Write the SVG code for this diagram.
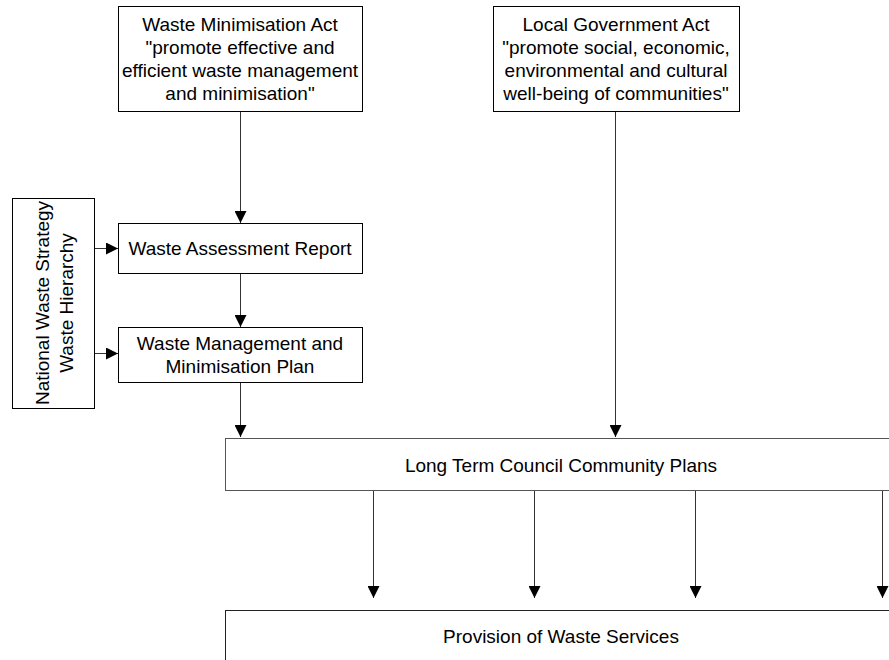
<svg xmlns="http://www.w3.org/2000/svg" width="889" height="660" viewBox="0 0 889 660">
<style>
.box{fill:#fff;stroke:#000;stroke-width:1}
.t{font-family:"Liberation Sans",Arial,sans-serif;font-size:19px;fill:#000;text-anchor:middle}
.c{stroke:#333;stroke-width:1;fill:none;marker-end:url(#ah)}
</style>
<defs>
<marker id="ah" markerWidth="12" markerHeight="12" refX="10" refY="5" orient="auto" markerUnits="userSpaceOnUse" viewBox="0 0 10 10">
<path d="M0,0 L10,5 L0,10 z" fill="#000"/>
</marker>
</defs>
<rect width="889" height="660" fill="#fff"/>
<g id="wma">
<rect class="box" x="118.5" y="6.5" width="244" height="105"/>
<text class="t" x="240" y="31">Waste Minimisation Act</text>
<text class="t" x="240" y="54">"promote effective and</text>
<text class="t" x="240" y="77">efficient waste management</text>
<text class="t" x="240" y="100">and minimisation"</text>
</g>
<g id="lga">
<rect class="box" x="493.5" y="6.5" width="246" height="105"/>
<text class="t" x="616" y="31">Local Government Act</text>
<text class="t" x="616" y="54">"promote social, economic,</text>
<text class="t" x="616" y="77">environmental and cultural</text>
<text class="t" x="616" y="100">well-being of communities"</text>
</g>
<g id="nws">
<rect class="box" x="12.5" y="198.5" width="82" height="210"/>
<text class="t" transform="translate(49,303) rotate(-90)">National Waste Strategy</text>
<text class="t" transform="translate(73,303) rotate(-90)">Waste Hierarchy</text>
</g>
<g id="war">
<rect class="box" x="118.5" y="223.5" width="244" height="50"/>
<text class="t" x="240" y="255">Waste Assessment Report</text>
</g>
<g id="wmmp">
<rect class="box" x="118.5" y="327.5" width="244" height="55"/>
<text class="t" x="240" y="350">Waste Management and</text>
<text class="t" x="240" y="373">Minimisation Plan</text>
</g>
<g id="ltccp">
<rect class="box" x="225.5" y="438.5" width="680" height="52" style="stroke:#555"/>
<text class="t" x="561" y="472">Long Term Council Community Plans</text>
</g>
<g id="pws">
<rect class="box" x="225.5" y="610.5" width="680" height="70" style="stroke:#222"/>
<text class="t" x="561" y="643">Provision of Waste Services</text>
</g>
<g id="connectors">
<path class="c" d="M240.5,112 V223"/>
<path class="c" d="M240.5,274 V327"/>
<path class="c" d="M240.5,383 V437"/>
<path class="c" d="M615.5,112 V437"/>
<path class="c" d="M95,248.5 H118"/>
<path class="c" d="M95,353.5 H118"/>
<path class="c" d="M373.5,491 V598"/>
<path class="c" d="M534.5,491 V598"/>
<path class="c" d="M695.5,491 V598"/>
<path class="c" d="M882.5,491 V598"/>
</g>
</svg>
